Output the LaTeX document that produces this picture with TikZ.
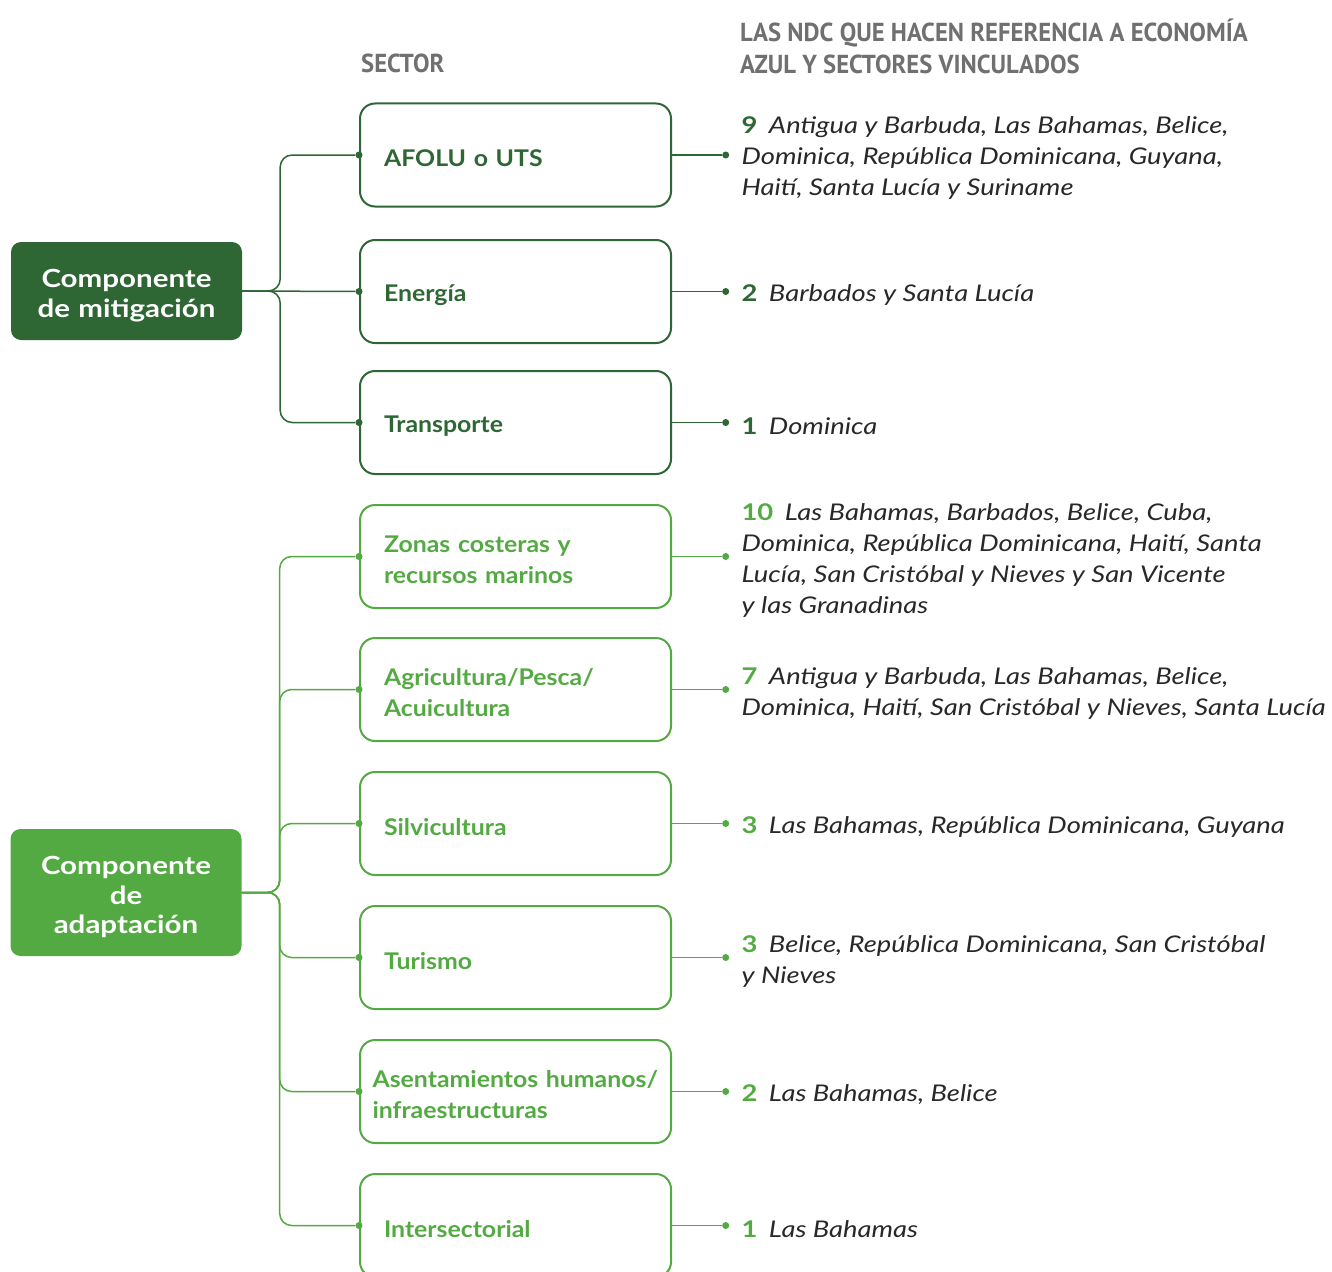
\documentclass[tikz,border=0pt]{standalone}
\usepackage{fontspec}
\setmainfont{Lato}
\newfontfamily\headfont[FakeStretch=0.95]{PT Sans}
\newfontfamily\ndcfont[FakeStretch=1.19]{Lato}
\newfontfamily\secfont[FakeStretch=1.08]{Lato}
\newfontfamily\compfont[FakeStretch=1.18]{Lato}
\usetikzlibrary{positioning}
\definecolor{darkgreen}{RGB}{46,102,52}
\definecolor{lightgreen}{RGB}{84,170,66}
\definecolor{headgrey}{RGB}{112,112,112}
\definecolor{ndctext}{RGB}{40,40,40}
\newcommand{\ndcnum}[2]{\textcolor{#1}{\upshape\bfseries #2}\hspace{0.5em}}

\begin{document}
\begin{tikzpicture}[x=1pt,y=-1pt]
    \tikzstyle{comp} = [rounded corners=10pt,text=white,align=center,text width=231pt,inner sep=0pt,font=\compfont\bfseries\fontsize{25}{29.5}\selectfont,execute at begin node={\rule{0pt}{28pt}}]
    \tikzstyle{sector} = [draw,line width=2pt,rounded corners=15pt,minimum width=311pt,minimum height=103pt,text width=263pt,align=left,font=\secfont\bfseries\fontsize{23}{31}\selectfont,execute at begin node={\rule{0pt}{24pt}}]
    \tikzstyle{dot} = [circle,fill,inner sep=0pt,minimum size=7pt]
    \tikzstyle{ndc} = [align=left,text=ndctext,inner sep=0pt,yshift=-3.5pt,font=\ndcfont\itshape\fontsize{23}{31}\selectfont]
    \tikzstyle{head} = [anchor=west,align=left,text=headgrey,inner sep=0pt,font=\headfont\bfseries\fontsize{26}{32}\selectfont]
    \tikzstyle{link} = [line width=1.5pt,rounded corners=12pt]
    \useasboundingbox (0,0) rectangle (1332,1271);
    \node [head] (sechead) at (361,63) {SECTOR};
    \node [head] (ndchead) at (740,46) {LAS NDC QUE HACEN REFERENCIA A ECONOMÍA\\AZUL Y SECTORES VINCULADOS};
    % componentes
    \node [comp,fill=darkgreen,minimum height=98pt] (mit) at (126.5,291) {Componente\\de mitigación};
    \node [comp,fill=lightgreen,minimum height=127pt] (ada) at (126,892.5) {Componente\\de\\adaptación};
    % sectores de mitigacion
    \node [sector,draw=darkgreen,text=darkgreen] (s1) at (515.5,155) {AFOLU o UTS};
    \node [sector,draw=darkgreen,text=darkgreen] (s2) at (515.5,291.5) {Energía};
    \node [sector,draw=darkgreen,text=darkgreen] (s3) at (515.5,422.5) {Transporte};
    % sectores de adaptacion
    \node [sector,draw=lightgreen,text=lightgreen] (s4) at (515.5,556.5) {Zonas costeras y\\recursos marinos};
    \node [sector,draw=lightgreen,text=lightgreen] (s5) at (515.5,689.5) {Agricultura/Pesca/\\Acuicultura};
    \node [sector,draw=lightgreen,text=lightgreen] (s6) at (515.5,823.5) {Silvicultura};
    \node [sector,draw=lightgreen,text=lightgreen] (s7) at (515.5,957.5) {Turismo};
    \node [sector,draw=lightgreen,text=lightgreen,inner xsep=12.5pt,text width=286pt] (s8) at (515.5,1091.5) {Asentamientos humanos/\\infraestructuras};
    \node [sector,draw=lightgreen,text=lightgreen] (s9) at (515.5,1225.5) {Intersectorial};
    % puntos de entrada
    \foreach \i in {1,2,3} \node [dot,darkgreen] (l\i) at (s\i.west) {};
    \foreach \i in {4,...,9} \node [dot,lightgreen] (l\i) at (s\i.west) {};
    % puntos de salida
    \foreach \i in {1,2,3} \node [dot,darkgreen,right=50pt of s\i] (r\i) {};
    \foreach \i in {4,...,9} \node [dot,lightgreen,right=50pt of s\i] (r\i) {};
    % paises
    \node [ndc,right=12pt of r1] (t1) {\ndcnum{darkgreen}{9}Antigua y Barbuda, Las Bahamas, Belice,\\Dominica, República Dominicana, Guyana,\\Haití, Santa Lucía y Suriname};
    \node [ndc,right=12pt of r2] (t2) {\ndcnum{darkgreen}{2}Barbados y Santa Lucía};
    \node [ndc,right=12pt of r3] (t3) {\ndcnum{darkgreen}{1}Dominica};
    \node [ndc,right=12pt of r4] (t4) {\ndcnum{lightgreen}{10}Las Bahamas, Barbados, Belice, Cuba,\\Dominica, República Dominicana, Haití, Santa\\Lucía, San Cristóbal y Nieves y San Vicente\\y las Granadinas};
    \node [ndc,right=12pt of r5] (t5) {\ndcnum{lightgreen}{7}Antigua y Barbuda, Las Bahamas, Belice,\\Dominica, Haití, San Cristóbal y Nieves, Santa Lucía};
    \node [ndc,right=12pt of r6] (t6) {\ndcnum{lightgreen}{3}Las Bahamas, República Dominicana, Guyana};
    \node [ndc,right=12pt of r7] (t7) {\ndcnum{lightgreen}{3}Belice, República Dominicana, San Cristóbal\\y Nieves};
    \node [ndc,right=12pt of r8] (t8) {\ndcnum{lightgreen}{2}Las Bahamas, Belice};
    \node [ndc,right=12pt of r9] (t9) {\ndcnum{lightgreen}{1}Las Bahamas};
    % conectores
    \draw [link,darkgreen] (mit.east) -- ++(38,0) |- (l1);
    \draw [link,darkgreen] (mit.east) -- (l2);
    \draw [link,darkgreen] (mit.east) -- ++(38,0) |- (l3);
    \foreach \i in {4,...,9} \draw [link,lightgreen] (ada.east) -- ++(38,0) |- (l\i);
    \foreach \i in {1,2,3} \draw [link,darkgreen] (s\i) -- (r\i);
    \foreach \i in {4,...,9} \draw [link,lightgreen] (s\i) -- (r\i);
\end{tikzpicture}
\end{document}
